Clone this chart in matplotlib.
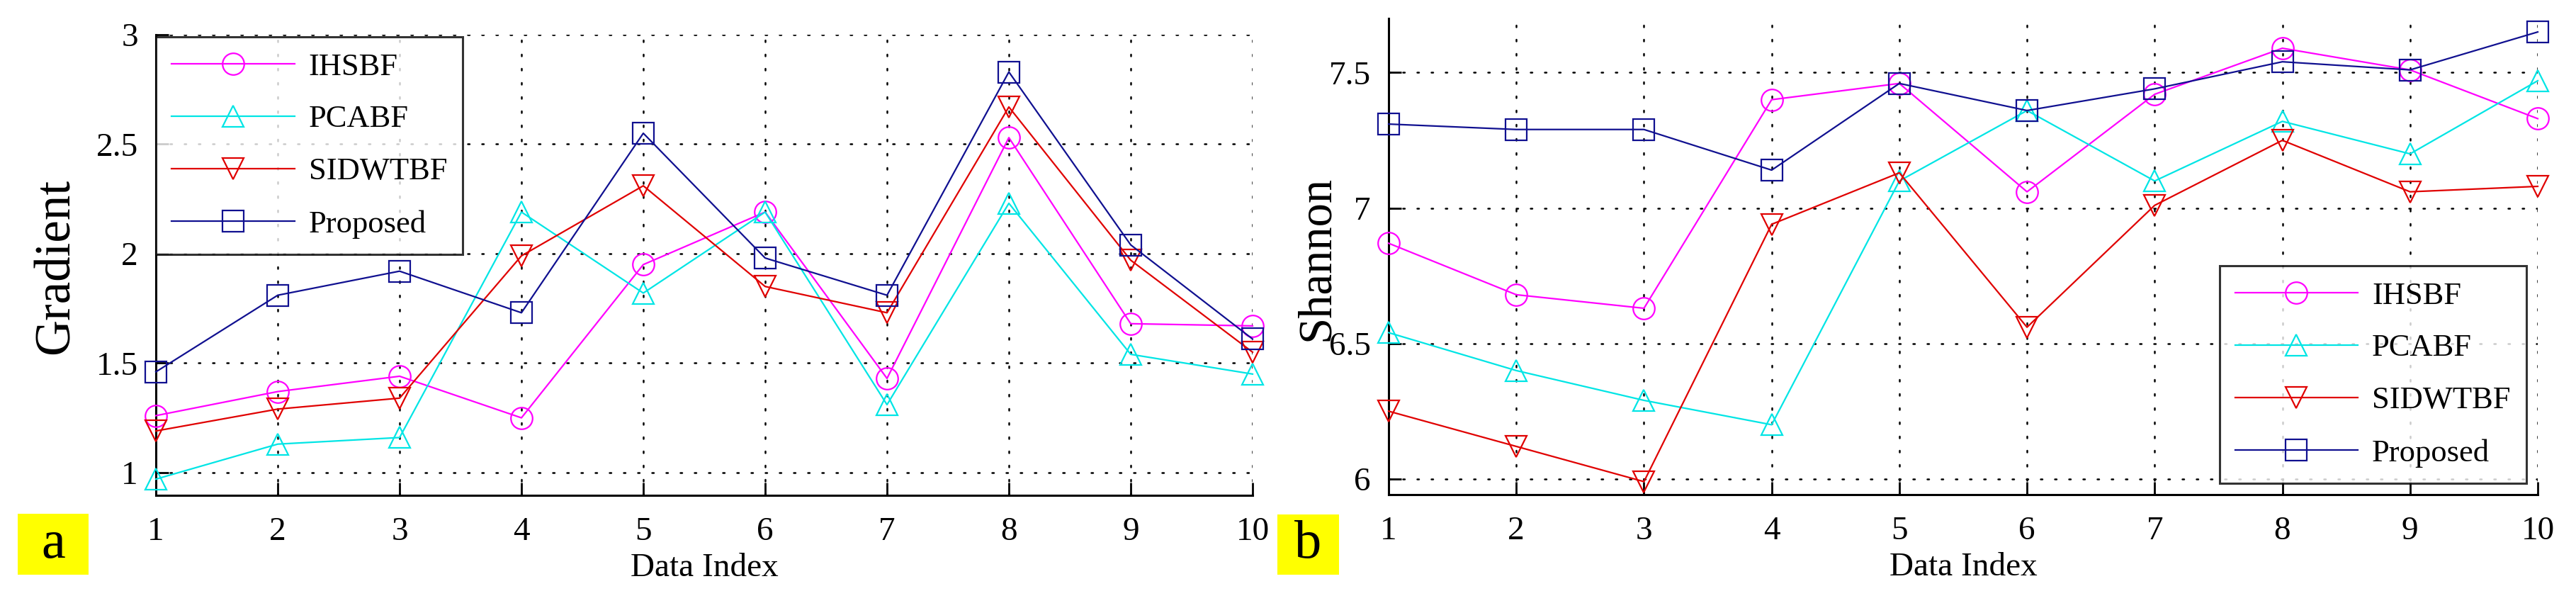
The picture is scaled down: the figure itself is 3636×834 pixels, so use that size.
import matplotlib
matplotlib.use('Agg')
import matplotlib.pyplot as plt
from matplotlib.patches import Rectangle

idx = [1, 2, 3, 4, 5, 6, 7, 8, 9, 10]
names = ['IHSBF', 'PCABF', 'SIDWTBF', 'Proposed']

# panel a: gradient
grad_ihsbf = [1.26, 1.37, 1.44, 1.25, 1.95, 2.19, 1.43, 2.53, 1.68, 1.67]
grad_pcabf = [0.97, 1.13, 1.16, 2.19, 1.82, 2.19, 1.31, 2.23, 1.54, 1.45]
grad_sidwtbf = [1.19, 1.29, 1.34, 1.99, 2.31, 1.85, 1.73, 2.67, 1.97, 1.55]
grad_proposed = [1.46, 1.81, 1.92, 1.73, 2.55, 1.98, 1.81, 2.83, 2.04, 1.61]

# panel b: shannon
shan_ihsbf = [6.87, 6.68, 6.63, 7.40, 7.46, 7.06, 7.42, 7.59, 7.51, 7.33]
shan_pcabf = [6.54, 6.40, 6.29, 6.20, 7.10, 7.36, 7.10, 7.32, 7.20, 7.47]
shan_sidwtbf = [6.25, 6.12, 5.99, 6.94, 7.13, 6.56, 7.01, 7.25, 7.06, 7.08]
shan_proposed = [7.31, 7.29, 7.29, 7.14, 7.46, 7.36, 7.44, 7.54, 7.51, 7.65]

colors = ['#ff00ff', '#00e5e5', '#e00000', '#101090']
markers = ['o', '^', 'v', 's']

plt.rcParams['font.family'] = ['Liberation Serif', 'DejaVu Serif']

fig = plt.figure(figsize=(36.37, 8.34), dpi=100)
ax1 = fig.add_axes([220/3637, 135/834, 1548/3637, 650/834])
ax2 = fig.add_axes([1960/3637, 136/834, 1622/3637, 672/834])

def draw(ax, series, ylim, yticks, ylabel, ylsize):
    for s, c, m, n in zip(series, colors, markers, names):
        ax.plot(idx, s, color=c, marker=m, markersize=22, markerfacecolor='none',
                markeredgewidth=1.6, linewidth=1.6, label=n, clip_on=False, zorder=3)
    ax.set_xlim(1, 10)
    ax.set_ylim(*ylim)
    ax.set_xticks(idx)
    ax.set_yticks(yticks)
    ax.set_yticklabels([('%g' % t) for t in yticks])
    ax.grid(True, color='black', linestyle=(0, (1, 7)), linewidth=1.8,
            dash_capstyle='round')
    for side in ['top', 'right']:
        ax.spines[side].set_visible(False)
    for side in ['left', 'bottom']:
        ax.spines[side].set_linewidth(2.2)
    ax.tick_params(direction='in', length=13, width=2, labelsize=34)
    ax.tick_params(axis='x', pad=22)
    ax.tick_params(axis='y', pad=18)
    ax.set_xlabel('Data Index', fontsize=34)
    ax.set_ylabel(ylabel, fontsize=ylsize)

draw(ax1, [grad_ihsbf, grad_pcabf, grad_sidwtbf, grad_proposed],
     (0.896, 3.0), [1, 1.5, 2, 2.5, 3], 'Gradient', 51)
draw(ax2, [shan_ihsbf, shan_pcabf, shan_sidwtbf, shan_proposed],
     (5.942, 7.7), [6, 6.5, 7, 7.5], 'Shannon', 48)

ax1.xaxis.set_label_coords(0.5, -0.125)
ax2.xaxis.set_label_coords(0.5, -0.122)
ax1.yaxis.set_label_coords(-0.070, 0.497)
ax2.yaxis.set_label_coords(-0.044, 0.497)

leg_kw = dict(fontsize=32, frameon=True, fancybox=False, edgecolor='black',
              handlelength=3.9, handletextpad=0.45, labelspacing=0.76,
              borderpad=0.5, borderaxespad=0)
l1 = ax1.legend(loc='upper left', bbox_to_anchor=(0, 0.995), **leg_kw)
l2 = ax2.legend(loc='lower right', bbox_to_anchor=(0.99, 0.024), **leg_kw)
for l in (l1, l2):
    l.get_frame().set_linewidth(2.2)
    l.set_zorder(5)

# yellow panel tags
for (x0, y0, w, h, t) in [(25, 725, 100, 86, 'a'), (1803, 726, 87, 85, 'b')]:
    fig.patches.append(Rectangle((x0/3637, 1 - (y0 + h)/834), w/3637, h/834,
                                 transform=fig.transFigure, facecolor='#ffff00',
                                 edgecolor='none'))
    fig.text((x0 + w/2)/3637, 1 - (y0 + h/2)/834, t, fontsize=55,
             ha='center', va='center')

fig.savefig('out.png', dpi=100, facecolor='white')
